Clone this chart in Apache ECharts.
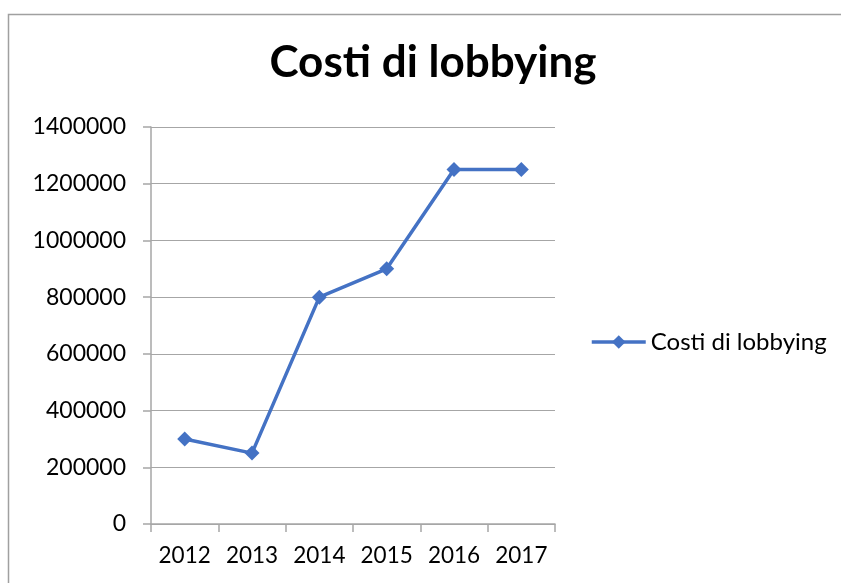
<!DOCTYPE html>
<html><head><meta charset="utf-8">
<script src="https://cdn.jsdelivr.net/npm/echarts@6/dist/echarts.min.js"></script>
<style>html,body{margin:0;padding:0;background:#fff}#c{width:841px;height:583px}</style>
</head><body><div id="c"></div>
<script>
const titleText = "Costi di lobbying";
const seriesName = "Costi di lobbying";
const categories = ["2012","2013","2014","2015","2016","2017"];
const values = [300000, 250000, 800000, 900000, 1250000, 1250000];
const yMin = 0, yMax = 1400000, yStep = 200000;

const chart = echarts.init(document.getElementById('c'));
chart.setOption({
  animation: false,
  backgroundColor: '#fff',
  graphic: [{type:'rect', shape:{x:8.5,y:14.5,width:900,height:700}, style:{fill:'none', stroke:'#a0a0a0', lineWidth:1.5}, silent:true}],
  title: {text: titleText, left: 428, textAlign: 'center', top: 36,
    textStyle: {fontFamily: 'Lato', fontWeight: 'bold', fontSize: 44, color: '#000'}},
  legend: {left: 590, top: 330, padding: 0, itemWidth: 54, itemHeight: 17, itemGap: 5,
    lineStyle: {width: 3.5},
    textStyle: {fontFamily: 'Lato', fontSize: 24, color: '#000'}},
  grid: {left: 151, right: 286, top: 127, bottom: 59, containLabel: false},
  xAxis: {type: 'category', data: categories, boundaryGap: true,
    axisLine: {lineStyle: {color: '#a6a6a6', width: 1.5}},
    axisTick: {show: true, interval: 0, length: 8, lineStyle: {color: '#a6a6a6', width: 1.5}},
    axisLabel: {interval: 0, margin: 20, fontFamily: 'Lato', fontSize: 22.5, color: '#000'}},
  yAxis: {type: 'value', min: yMin, max: yMax, interval: yStep,
    axisLine: {show: true, lineStyle: {color: '#a6a6a6', width: 1.5}},
    axisTick: {show: true, length: 8, lineStyle: {color: '#a6a6a6', width: 1.5}},
    splitLine: {lineStyle: {color: '#a6a6a6', width: 1.2}},
    axisLabel: {margin: 25, fontFamily: 'Lato', fontSize: 23, color: '#000',
      formatter: v => String(v)}},
  series: [{name: seriesName, type: 'line', data: values, symbol: 'diamond', symbolSize: 15,
    itemStyle: {color: '#4472C4'}, lineStyle: {color: '#4472C4', width: 3.5}}]
});
</script></body></html>
